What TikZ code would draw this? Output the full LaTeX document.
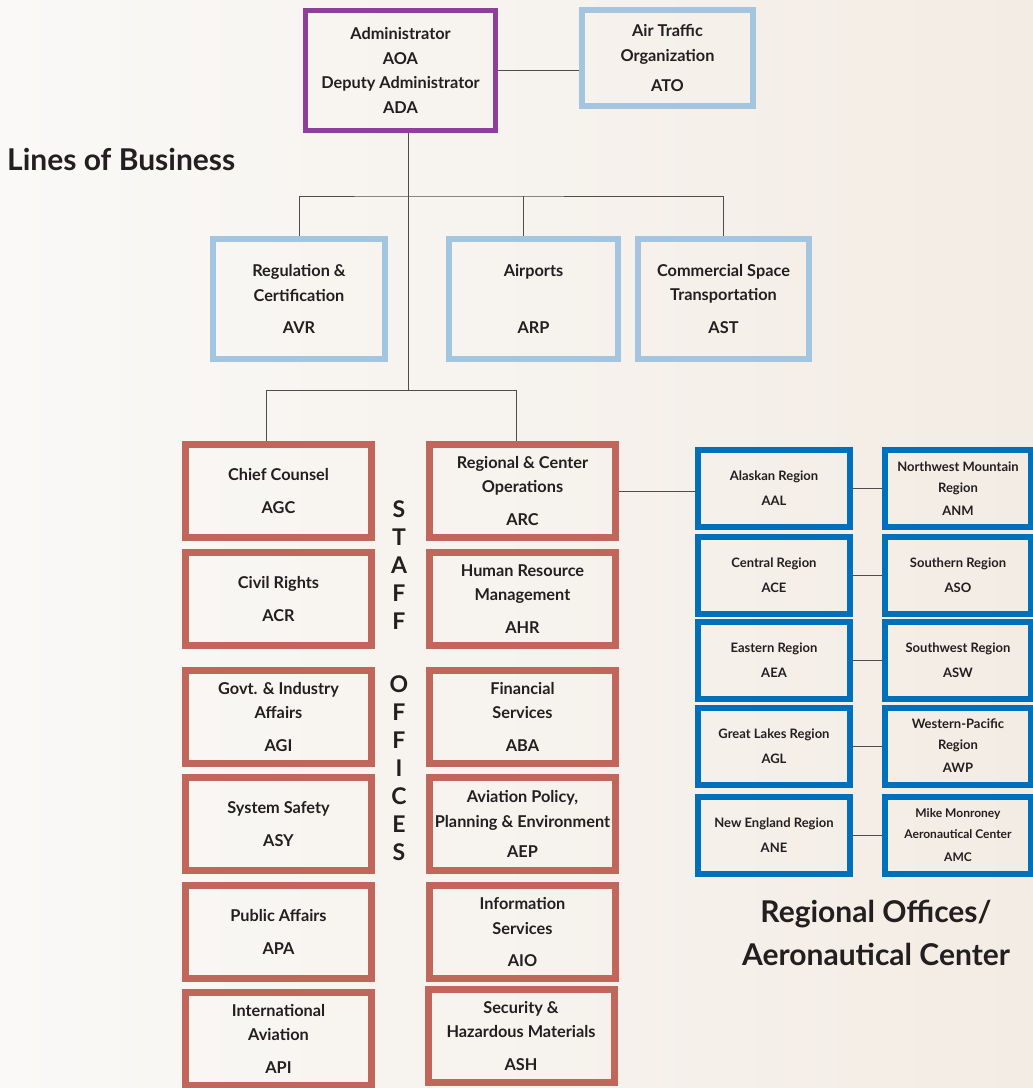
\documentclass[tikz,border=0pt]{standalone}
\usepackage{fontspec}
\setmainfont{Lato}
\usepackage{tikz}

\definecolor{adminpurple}{HTML}{8E3F98}
\definecolor{lobblue}{HTML}{A4C5DF}
\definecolor{staffred}{HTML}{C0665A}
\definecolor{regblue}{HTML}{0070BA}
\definecolor{ink}{HTML}{231F20}
\definecolor{bgleft}{HTML}{FAF9F7}
\definecolor{bgright}{HTML}{F3ECE4}

\begin{document}
\begin{tikzpicture}[x=1pt,y=-1pt,
    every node/.style={align=center,text=ink,inner sep=0pt},
    box/.style={draw,font=\bfseries\fontsize{16.3}{24.5}\selectfont},
    adminbox/.style={box,draw=adminpurple,line width=5pt,minimum width=190pt,minimum height=120pt},
    lobbox/.style={box,draw=lobblue,line width=6pt,minimum height=120pt},
    staffbox/.style={box,draw=staffred,line width=7pt,minimum width=186pt,minimum height=93pt},
    regbox/.style={box,draw=regblue,line width=6pt,minimum height=77pt,font=\bfseries\fontsize{13}{21}\selectfont},
    title/.style={font=\bfseries\fontsize{30}{43}\selectfont},
    vletters/.style={font=\bfseries\fontsize{23}{28}\selectfont},
    conn/.style={draw=ink!80,line width=1pt}]
  \useasboundingbox (0,0) rectangle (1033,1088);
  \shade[left color=bgleft,right color=bgright] (0,0) rectangle (1033,1088);

  % top
  \node[adminbox] (AOA) at (400.5,70.5) {Administrator\\AOA\\Deputy Administrator\\ADA};
  \node[lobbox,minimum width=171pt,minimum height=96pt] (ATO) at (667.5,58) {Air Traffic\\Organization\\[6pt]ATO};

  % lines of business
  \node[title,anchor=west] (lobtitle) at (7,159) {Lines of Business};
  \node[lobbox,minimum width=172pt] (AVR) at (299,299) {Regulation \&\\Certification\\[8pt]AVR};
  \node[lobbox,minimum width=169pt] (ARP) at (533.5,299) {Airports\\\mbox{}\\[8pt]ARP};
  \node[lobbox,minimum width=171pt] (AST) at (723.5,299) {Commercial Space\\Transportation\\[8pt]AST};

  % staff offices
  \node[staffbox] (AGC) at (278.5,491) {Chief Counsel\\[8pt]AGC};
  \node[staffbox] (ACR) at (278.5,599) {Civil Rights\\[8pt]ACR};
  \node[staffbox] (AGI) at (278.5,716.5) {Govt. \& Industry\\Affairs\\[8pt]AGI};
  \node[staffbox] (ASY) at (278.5,824) {System Safety\\[8pt]ASY};
  \node[staffbox] (APA) at (278.5,932) {Public Affairs\\[8pt]APA};
  \node[staffbox] (API) at (278.5,1038.5) {International\\Aviation\\[8pt]API};
  \node[staffbox] (ARC) at (522.5,491) {Regional \& Center\\Operations\\[8pt]ARC};
  \node[staffbox] (AHR) at (522.5,599) {Human Resource\\Management\\[8pt]AHR};
  \node[staffbox] (ABA) at (522.5,716.5) {Financial\\Services\\[8pt]ABA};
  \node[staffbox] (AEP) at (522.5,824) {Aviation Policy,\\Planning \& Environment\\[6pt]AEP};
  \node[staffbox] (AIO) at (522.5,932) {Information\\Services\\[8pt]AIO};
  \node[staffbox] (ASH) at (521,1036) {Security \&\\Hazardous Materials\\[8pt]ASH};
  \node[vletters] (staff) at (399,565) {S\\T\\A\\F\\F};
  \node[vletters] (offices) at (399,768.5) {O\\F\\F\\I\\C\\E\\S};

  % regional offices
  \node[regbox,minimum width=152pt] (AAL) at (774,488.5) {Alaskan Region\\[4pt]AAL};
  \node[regbox,minimum width=146pt] (ANM) at (958,488.5) {Northwest Mountain\\Region\\[2pt]ANM};
  \node[regbox,minimum width=152pt] (ACE) at (774,575) {Central Region\\[4pt]ACE};
  \node[regbox,minimum width=146pt] (ASO) at (958,575) {Southern Region\\[4pt]ASO};
  \node[regbox,minimum width=152pt] (AEA) at (774,660.5) {Eastern Region\\[4pt]AEA};
  \node[regbox,minimum width=146pt] (ASW) at (958,660.5) {Southwest Region\\[4pt]ASW};
  \node[regbox,minimum width=152pt] (AGL) at (774,746) {Great Lakes Region\\[4pt]AGL};
  \node[regbox,minimum width=146pt] (AWP) at (958,746) {Western-Pacific\\Region\\[2pt]AWP};
  \node[regbox,minimum width=152pt] (ANE) at (774,835) {New England Region\\[4pt]ANE};
  \node[regbox,minimum width=146pt,font=\bfseries\fontsize{12}{21}\selectfont] (AMC) at (958,835) {Mike Monroney\\Aeronautical Center\\[2pt]AMC};
  \node[title] (regtitle) at (876,933) {Regional Offices/\\Aeronautical Center};

  % connectors
  \coordinate (lob) at (408,196);
  \coordinate (stf) at (408,390);
  \coordinate (stfL) at (266,390);
  \coordinate (stfR) at (516,390);
  \draw[conn] (AOA.east) -- (AOA.east -| ATO.west);
  \draw[conn] (AOA.south -| stf) -- (stf);
  \draw[conn] (AVR.north) |- (lob) -| (AST.north);
  \draw[conn] ([xshift=-10pt]ARP.north) -- ([xshift=-10pt]ARP.north |- lob);
  \draw[conn] (AGC.north -| stfL) -- (stfL) -- (stfR) -- (ARC.north -| stfR);
  \draw[conn] (ARC.east) -- (ARC.east -| AAL.west);
  \draw[conn] (AAL.east) -- (ANM.west) (ACE.east) -- (ASO.west) (AEA.east) -- (ASW.west);
  \draw[conn] (AGL.east) -- (AWP.west) (ANE.east) -- (AMC.west);
\end{tikzpicture}
\end{document}
